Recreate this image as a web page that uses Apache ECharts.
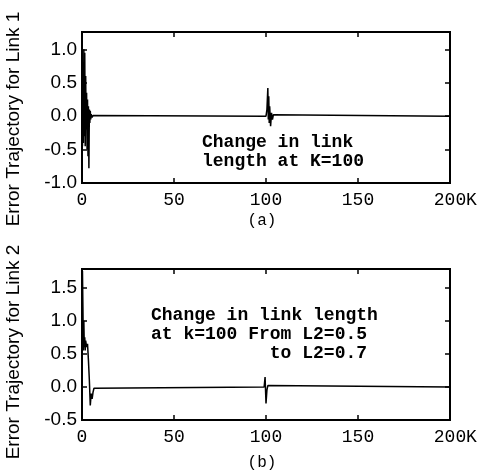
<!DOCTYPE html>
<html>
<head>
<meta charset="utf-8">
<script src="https://cdn.jsdelivr.net/npm/echarts@6/dist/echarts.min.js"></script>
<style>html,body{margin:0;padding:0;background:#fff}#c{width:477px;height:471px}</style>
</head>
<body>
<div id="c"></div>
<script>
// Panel (a): error trajectory for link 1
const kA = [0,0.25,0.5,0.75,1.0,1.25,1.5,1.75,2.0,2.25,2.5,2.75,3.0,3.25,3.5,3.75,4.0,4.25,4.5,4.75,5.0,5.5,6,7,100,100.5,101,101.25,101.5,101.75,102,102.5,103,103.5,104,105,200];
const eA = [0,-0.45,0.3,-0.4,1.0,-0.3,0.95,-0.45,0.6,-0.2,0.35,-0.5,0.25,-0.6,0.15,-0.78,0.1,-0.1,0.08,-0.05,0.03,-0.02,0.01,0,0,0.1,0.42,-0.05,0.3,-0.1,0.15,-0.15,0.05,-0.05,0.02,0,0];
// Panel (b): error trajectory for link 2
const kB = [0,0.25,0.5,0.75,1.0,1.25,1.5,1.75,2.0,2.5,3.0,3.5,4.0,4.5,5.0,5.5,6,6.5,7,99,99.5,100,100.5,101,102,200];
const eB = [0,1.75,1.2,0.55,1.0,0.6,0.75,0.55,0.7,0.6,0.65,0.4,0.1,-0.28,-0.1,-0.18,-0.08,-0.02,0,0,0.15,-0.25,-0.05,0.02,0,0];
const xTicks = {min:0, max:200, interval:50};
const yTicksA = {min:-1.0, max:1.26, interval:0.5};
const yTicksB = {min:-0.5, max:1.78, interval:0.5};

const chart = echarts.init(document.getElementById('c'), null, {renderer:'canvas'});
const tickStyle = {show:true, inside:true, length:5, lineStyle:{color:'#000', width:1.5}};
const noLine = {show:false, onZero:false};
function xMain(g){return {gridIndex:g, type:'value', position:'bottom', min:xTicks.min, max:xTicks.max, interval:xTicks.interval,
  axisLine:noLine, axisTick:tickStyle, splitLine:{show:false},
  axisLabel:{color:'#000', fontFamily:'Liberation Mono', fontSize:18, margin:8}};}
function xTop(g){return {gridIndex:g, type:'value', position:'top', min:xTicks.min, max:xTicks.max, interval:xTicks.interval,
  axisLine:noLine, axisTick:tickStyle, splitLine:{show:false}, axisLabel:{show:false}};}
function yMain(g,t){return {gridIndex:g, type:'value', position:'left', min:t.min, max:t.max, interval:t.interval,
  axisLine:noLine, axisTick:tickStyle, splitLine:{show:false},
  axisLabel:{color:'#000', fontFamily:'Liberation Sans', fontSize:19, margin:5, showMaxLabel:false, formatter:v=>v.toFixed(1)}};}
function yRight(g,t){return {gridIndex:g, type:'value', position:'right', min:t.min, max:t.max, interval:t.interval,
  axisLine:noLine, axisTick:tickStyle, splitLine:{show:false}, axisLabel:{show:false}};}

const option = {
  animation:false,
  backgroundColor:'#fff',
  grid:[
    {left:82, top:32, width:368, height:151, show:true, borderColor:'#000', borderWidth:2, backgroundColor:'transparent'},
    {left:82, top:269, width:368, height:151, show:true, borderColor:'#000', borderWidth:2, backgroundColor:'transparent'}
  ],
  xAxis:[xMain(0), xTop(0), xMain(1), xTop(1)],
  yAxis:[yMain(0,yTicksA), yRight(0,yTicksA), yMain(1,yTicksB), yRight(1,yTicksB)],
  series:[
    {type:'line', xAxisIndex:0, yAxisIndex:0, data:kA.map((k,i)=>[k,eA[i]]), showSymbol:false, lineStyle:{color:'#000', width:1.5}},
    {type:'line', xAxisIndex:2, yAxisIndex:2, data:kB.map((k,i)=>[k,eB[i]]), showSymbol:false, lineStyle:{color:'#000', width:1.5}}
  ],
  graphic:[
    {type:'text', x:14, y:119, rotation:Math.PI/2, style:{text:'Error Trajectory for Link 1', fontFamily:'Liberation Sans', fontSize:19, fill:'#000', align:'center', verticalAlign:'middle'}},
    {type:'text', x:14, y:352, rotation:Math.PI/2, style:{text:'Error Trajectory for Link 2', fontFamily:'Liberation Sans', fontSize:19, fill:'#000', align:'center', verticalAlign:'middle'}},
    {type:'text', x:202, y:133, style:{text:'Change in link\nlength at K=100', fontFamily:'Liberation Mono', fontWeight:'bold', fontSize:18, lineHeight:19, fill:'#000', align:'left', verticalAlign:'top'}},
    {type:'text', x:151, y:306, style:{text:'Change in link length\nat k=100 From L2=0.5\n           to L2=0.7', fontFamily:'Liberation Mono', fontWeight:'bold', fontSize:18, lineHeight:19, fill:'#000', align:'left', verticalAlign:'top'}},
    {type:'text', x:466, y:200, style:{text:'K', fontFamily:'Liberation Mono', fontSize:18, fill:'#000', align:'left', verticalAlign:'middle'}},
    {type:'text', x:466, y:437, style:{text:'K', fontFamily:'Liberation Mono', fontSize:18, fill:'#000', align:'left', verticalAlign:'middle'}},
    {type:'text', x:262, y:221, style:{text:'(a)', fontFamily:'Liberation Mono', fontSize:16, fill:'#000', align:'center', verticalAlign:'middle'}},
    {type:'text', x:262, y:463, style:{text:'(b)', fontFamily:'Liberation Mono', fontSize:16, fill:'#000', align:'center', verticalAlign:'middle'}}
  ]
};
chart.setOption(option);
</script>
</body>
</html>
